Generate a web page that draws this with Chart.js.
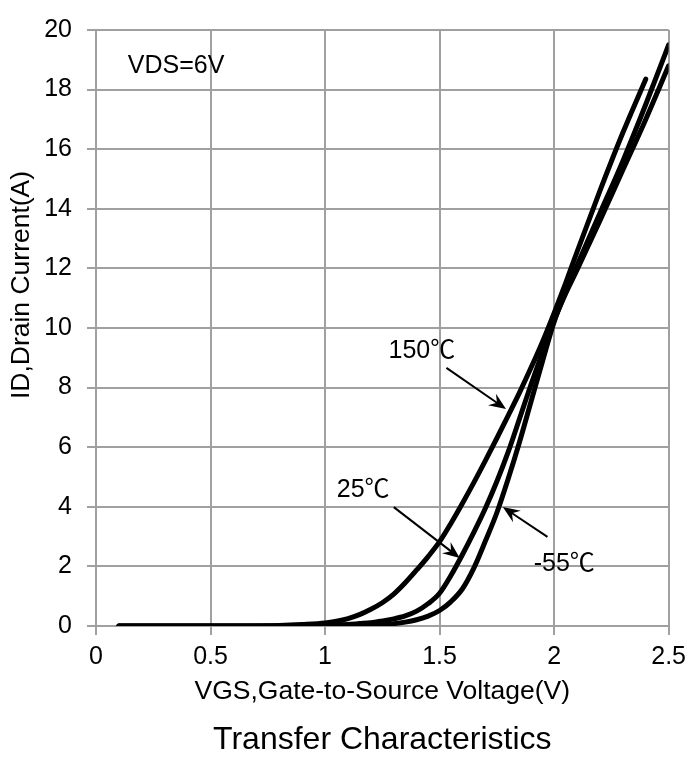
<!DOCTYPE html>
<html>
<head>
<meta charset="utf-8">
<script src="https://cdn.jsdelivr.net/npm/chart.js@4.4.1/dist/chart.umd.min.js"></script>
<style>
  html, body { margin: 0; padding: 0; background: #fff; }
  #wrap { width: 693px; height: 760px; }
</style>
</head>
<body>
<div id="wrap"><canvas id="transfer"></canvas></div>
<script>
// gate voltage samples (V) and drain current (A) per temperature
const vgs = [0.1, 0.5, 0.8, 0.9, 1.0, 1.05, 1.1, 1.15, 1.2, 1.25, 1.3, 1.35, 1.4, 1.45, 1.5, 1.55, 1.6, 1.65, 1.7, 1.75, 1.8, 1.85, 1.9, 1.95, 2.0, 2.05, 2.1, 2.2, 2.3, 2.4, 2.5];
const id150 = [0, 0, 0.02, 0.05, 0.1, 0.16, 0.25, 0.38, 0.56, 0.78, 1.07, 1.45, 1.88, 2.33, 2.83, 3.45, 4.12, 4.82, 5.55, 6.3, 7.07, 7.85, 8.68, 9.55, 10.5, 11.5, 12.55, 14.6, 16.55, 18.35, null];
const id25 = [0, 0, 0, 0.01, 0.02, 0.03, 0.05, 0.08, 0.11, 0.17, 0.24, 0.34, 0.5, 0.75, 1.1, 1.7, 2.4, 3.15, 3.95, 4.85, 5.85, 6.98, 8.12, 9.2, 10.25, 11.15, 11.95, 13.6, 15.3, 17.0, 18.8];
const idMinus55 = [0, 0, 0, 0, 0, 0.005, 0.01, 0.02, 0.03, 0.05, 0.08, 0.13, 0.21, 0.33, 0.52, 0.82, 1.25, 1.95, 2.85, 3.8, 4.95, 6.2, 7.55, 8.9, 10.2, 11.2, 12.1, 13.85, 15.6, 17.5, 19.5];

const xTicks = [0, 0.5, 1, 1.5, 2, 2.5];
const yTicks = [0, 2, 4, 6, 8, 10, 12, 14, 16, 18, 20];

// text notes placed in data units (left edge, vertical middle)
const noteText = ["VDS=6V", "150℃", "25℃", "-55℃"];
const noteX = [0.139, 1.277, 1.051, 1.911];
const noteY = [18.8, 9.23, 4.56, 2.08];

// arrows: tail -> head, in data units
const arrowTail = [[1.53, 8.66], [1.3, 3.99], [1.971, 2.99]];
const arrowHead = [[1.79, 7.28], [1.588, 2.28], [1.776, 3.99]];

const FONT = "'Liberation Sans', Arial, 'Noto Sans CJK SC', sans-serif";
const GRID = "#a0a0a0";

function toPoints(ys) {
  const pts = [];
  ys.forEach((y, i) => {
    if (y !== null) pts.push({ x: vgs[i], y: y });
  });
  return pts;
}

function curve(label, ys) {
  return {
    label: label,
    data: toPoints(ys),
    showLine: true,
    borderColor: "#000",
    backgroundColor: "#000",
    borderWidth: 5,
    borderCapStyle: "round",
    borderJoinStyle: "round",
    pointRadius: 0,
    cubicInterpolationMode: "monotone",
    fill: false,
  };
}

function drawArrow(ctx, x1, y1, x2, y2) {
  const ang = Math.atan2(y2 - y1, x2 - x1);
  const len = 17;
  const half = 7;
  ctx.beginPath();
  ctx.moveTo(x1, y1);
  ctx.lineTo(x2 - Math.cos(ang) * 8, y2 - Math.sin(ang) * 8);
  ctx.lineWidth = 2;
  ctx.strokeStyle = "#000";
  ctx.stroke();

  const bx = x2 - Math.cos(ang) * len;
  const by = y2 - Math.sin(ang) * len;
  const nx = -Math.sin(ang);
  const ny = Math.cos(ang);
  ctx.beginPath();
  ctx.moveTo(x2, y2);
  ctx.lineTo(bx + nx * half, by + ny * half);
  ctx.lineTo(x2 - Math.cos(ang) * (len - 6), y2 - Math.sin(ang) * (len - 6));
  ctx.lineTo(bx - nx * half, by - ny * half);
  ctx.closePath();
  ctx.fillStyle = "#000";
  ctx.fill();
}

const notesPlugin = {
  id: "notes",
  afterDatasetsDraw(chart) {
    const { ctx, chartArea, scales } = chart;
    const xs = scales.x;
    const ys = scales.y;
    ctx.save();
    ctx.fillStyle = "#000";
    ctx.font = `25px ${FONT}`;
    ctx.textAlign = "left";
    ctx.textBaseline = "middle";
    noteText.forEach((t, i) => {
      ctx.fillText(t, xs.getPixelForValue(noteX[i]), ys.getPixelForValue(noteY[i]));
    });

    arrowTail.forEach((tail, i) => {
      const head = arrowHead[i];
      drawArrow(
        ctx,
        xs.getPixelForValue(tail[0]),
        ys.getPixelForValue(tail[1]),
        xs.getPixelForValue(head[0]),
        ys.getPixelForValue(head[1])
      );
    });

    // chart title, centred under the plot area
    ctx.fillStyle = "#000";
    ctx.font = `32px ${FONT}`;
    ctx.textAlign = "center";
    ctx.textBaseline = "middle";
    ctx.fillText("Transfer Characteristics", (chartArea.left + chartArea.right) / 2, 740);

    // y axis title
    ctx.translate(22, 285);
    ctx.rotate(-Math.PI / 2);
    ctx.font = `26.5px ${FONT}`;
    ctx.fillText("ID,Drain Current(A)", 0, 0);
    ctx.restore();
  },
};

const transferChart = new Chart(document.getElementById("transfer"), {
  type: "scatter",
  data: {
    datasets: [curve("150℃", id150), curve("25℃", id25), curve("-55℃", idMinus55)],
  },
  options: {
    responsive: true,
    maintainAspectRatio: false,
    animation: false,
    devicePixelRatio: 1,
    layout: { padding: { left: 0, right: 21, top: 19, bottom: 0 } },
    plugins: {
      legend: { display: false },
      tooltip: { enabled: false },
      title: { display: false },
    },
    scales: {
      x: {
        type: "linear",
        min: 0,
        max: 2.5,
        afterBuildTicks: (scale) => {
          scale.ticks = xTicks.map((v) => ({ value: v }));
        },
        afterFit: (scale) => {
          scale.height = 134;
        },
        ticks: {
          color: "#000",
          font: { family: FONT, size: 25 },
          padding: 7,
          maxRotation: 0,
          callback: (v) => `${v}`,
        },
        grid: { color: GRID, lineWidth: 2, tickLength: 9 },
        border: { color: GRID, width: 2 },
        title: {
          display: true,
          text: "VGS,Gate-to-Source Voltage(V)",
          color: "#000",
          font: { family: FONT, size: 26.5 },
          padding: { top: 0, bottom: 52 },
        },
      },
      y: {
        type: "linear",
        min: 0,
        max: 20,
        afterBuildTicks: (scale) => {
          scale.ticks = yTicks.map((v) => ({ value: v }));
        },
        afterFit: (scale) => {
          scale.width = 96;
        },
        ticks: {
          color: "#000",
          font: { family: FONT, size: 25 },
          padding: 15,
          callback: (v) => `${v}`,
        },
        grid: { color: GRID, lineWidth: 2, tickLength: 9 },
        border: { color: GRID, width: 2 },
      },
    },
  },
  plugins: [notesPlugin],
});
</script>
</body>
</html>
